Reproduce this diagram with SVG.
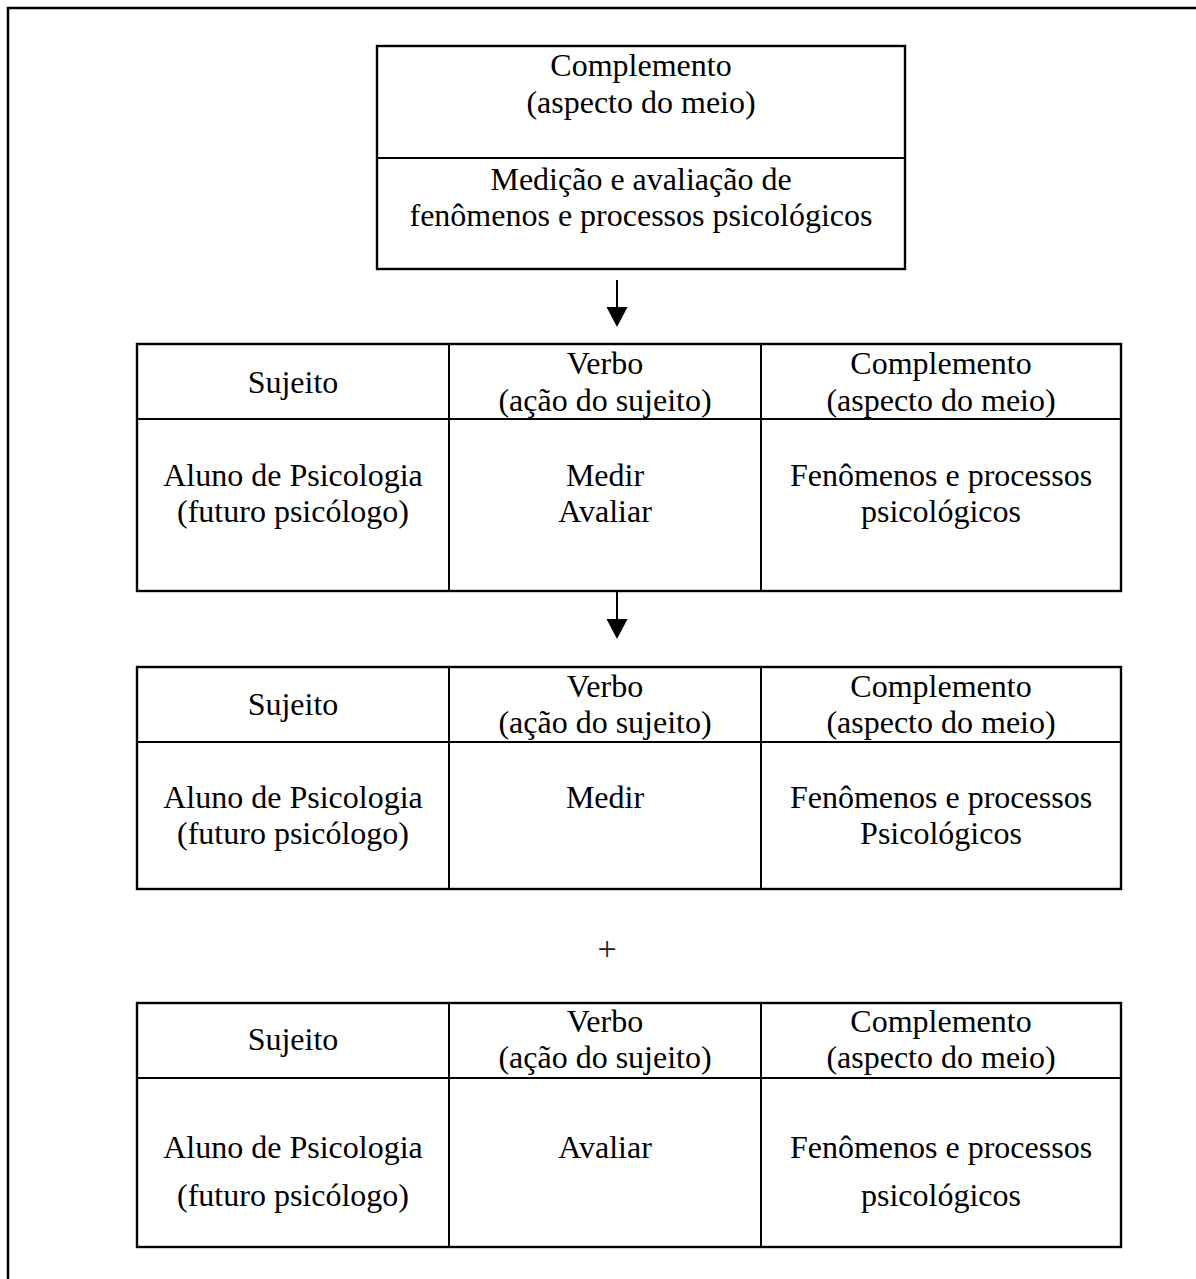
<svg xmlns="http://www.w3.org/2000/svg" width="1196" height="1279" viewBox="0 0 1196 1279">
<style>
.t{font-family:"Liberation Serif","Times New Roman",serif;font-size:32px;fill:#000;text-anchor:middle}
.b{fill:none;stroke:#000;stroke-width:2.4}
.l{stroke:#000;stroke-width:2}
</style>
<rect width="1196" height="1279" fill="#fff"/>
<path d="M8,1279 V8 H1196" fill="none" stroke="#000" stroke-width="2.5"/>

<g id="top-box">
<rect class="b" x="377" y="46" width="528" height="223"/>
<line class="l" x1="377" y1="158" x2="905" y2="158"/>
<text class="t" x="641" y="76">Complemento</text>
<text class="t" x="641" y="113">(aspecto do meio)</text>
<text class="t" x="641" y="190">Medição e avaliação de</text>
<text class="t" x="641" y="226">fenômenos e processos psicológicos</text>
</g>

<g id="connectors">
<line class="l" x1="617" y1="280" x2="617" y2="310"/>
<path d="M606.5,307 L627.5,307 L617,327 Z" fill="#000"/>
<line class="l" x1="617" y1="591" x2="617" y2="622"/>
<path d="M606.5,619 L627.5,619 L617,639 Z" fill="#000"/>
</g>

<g id="table1">
<rect class="b" x="137" y="344" width="984" height="247"/>
<line class="l" x1="137" y1="419" x2="1121" y2="419"/>
<line class="l" x1="449" y1="344" x2="449" y2="591"/>
<line class="l" x1="761" y1="344" x2="761" y2="591"/>
<text class="t" x="293" y="393">Sujeito</text>
<text class="t" x="605" y="374">Verbo</text>
<text class="t" x="605" y="411">(ação do sujeito)</text>
<text class="t" x="941" y="374">Complemento</text>
<text class="t" x="941" y="411">(aspecto do meio)</text>
<text class="t" x="293" y="486">Aluno de Psicologia</text>
<text class="t" x="293" y="522">(futuro psicólogo)</text>
<text class="t" x="605" y="486">Medir</text>
<text class="t" x="605" y="522">Avaliar</text>
<text class="t" x="941" y="486">Fenômenos e processos</text>
<text class="t" x="941" y="522">psicológicos</text>
</g>

<g id="table2">
<rect class="b" x="137" y="667" width="984" height="222"/>
<line class="l" x1="137" y1="742" x2="1121" y2="742"/>
<line class="l" x1="449" y1="667" x2="449" y2="889"/>
<line class="l" x1="761" y1="667" x2="761" y2="889"/>
<text class="t" x="293" y="715">Sujeito</text>
<text class="t" x="605" y="697">Verbo</text>
<text class="t" x="605" y="733">(ação do sujeito)</text>
<text class="t" x="941" y="697">Complemento</text>
<text class="t" x="941" y="733">(aspecto do meio)</text>
<text class="t" x="293" y="808">Aluno de Psicologia</text>
<text class="t" x="293" y="844">(futuro psicólogo)</text>
<text class="t" x="605" y="808">Medir</text>
<text class="t" x="941" y="808">Fenômenos e processos</text>
<text class="t" x="941" y="844">Psicológicos</text>
</g>

<g id="plus">
<text class="t" x="607" y="960" style="font-size:34px;fill:#222">+</text>
</g>

<g id="table3">
<rect class="b" x="137" y="1003" width="984" height="244"/>
<line class="l" x1="137" y1="1078" x2="1121" y2="1078"/>
<line class="l" x1="449" y1="1003" x2="449" y2="1247"/>
<line class="l" x1="761" y1="1003" x2="761" y2="1247"/>
<text class="t" x="293" y="1050">Sujeito</text>
<text class="t" x="605" y="1032">Verbo</text>
<text class="t" x="605" y="1068">(ação do sujeito)</text>
<text class="t" x="941" y="1032">Complemento</text>
<text class="t" x="941" y="1068">(aspecto do meio)</text>
<text class="t" x="293" y="1158">Aluno de Psicologia</text>
<text class="t" x="293" y="1206">(futuro psicólogo)</text>
<text class="t" x="605" y="1158">Avaliar</text>
<text class="t" x="941" y="1158">Fenômenos e processos</text>
<text class="t" x="941" y="1206">psicológicos</text>
</g>
</svg>
